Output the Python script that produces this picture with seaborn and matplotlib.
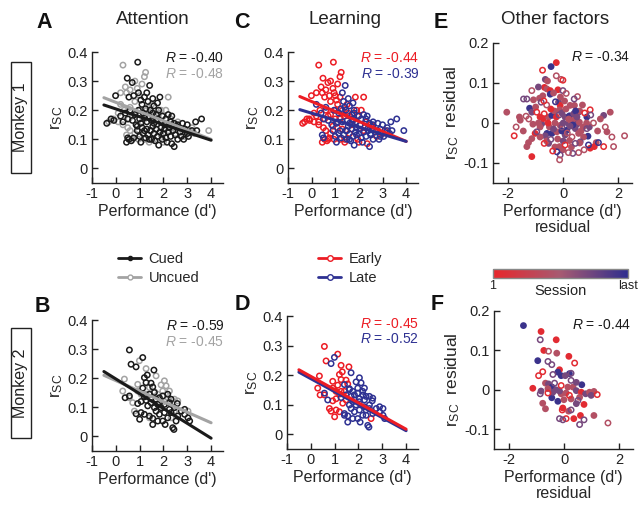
import numpy as np
import pandas as pd
import matplotlib
matplotlib.use('Agg')
import matplotlib.pyplot as plt
from matplotlib.colors import LinearSegmentedColormap, Normalize
from matplotlib.lines import Line2D
from matplotlib.patches import Rectangle
import matplotlib.cm as cm
import seaborn as sns

# ---------------- data ----------------
# monkey 1: (performance d', r_SC), split by cue condition and by early/late sessions
m1_cued_early = [(0.92, .365), (0.48, .31), (0.69, .295), (-0.01, .25), (1.2, .245), (0.75, .25),
                 (0.95, .26), (1.05, .235), (1.85, .245), (1.1, .22), (0.55, .245), (-0.38, .155),
                 (-0.2, .17), (-0.08, .165), (0.3, .16), (0.6, .2), (0.8, .185), (1.0, .17),
                 (1.2, .175), (1.4, .18), (1.55, .19), (1.95, .18), (2.3, .16), (0.2, .18),
                 (0.45, .09), (0.55, .1), (0.65, .095), (0.75, .105), (1.1, .14), (1.3, .135),
                 (1.6, .12), (1.95, .1), (2.25, .14), (2.35, .085), (2.55, .145), (2.75, .11),
                 (3.0, .12), (1.4, .1), (0.9, .145)]
m1_cued_late = [(1.42, .285), (1.3, .26), (1.55, .24), (1.75, .225), (1.35, .23), (1.6, .215),
                (0.4, .19), (0.5, .17), (0.7, .165), (0.85, .15), (0.95, .2), (1.05, .155),
                (1.15, .19), (1.25, .205), (1.3, .16), (1.45, .2), (1.5, .165), (1.6, .155),
                (1.7, .185), (1.75, .17), (1.8, .2), (1.9, .16), (2.05, .15), (2.1, .17),
                (2.2, .185), (2.35, .18), (2.45, .155), (2.6, .15), (2.8, .155), (3.0, .15),
                (3.35, .16), (3.6, .17), (0.5, .105), (0.9, .13), (1.0, .11), (1.15, .12),
                (1.25, .105), (1.35, .115), (1.45, .13), (1.5, .1), (1.55, .145), (1.65, .095),
                (1.7, .135), (1.75, .11), (1.8, .08), (1.85, .125), (1.9, .14), (2.0, .12),
                (2.05, .135), (2.1, .105), (2.15, .09), (2.2, .125), (2.3, .11), (2.4, .13),
                (2.45, .075), (2.5, .115), (2.6, .1), (2.7, .125), (2.85, .1), (2.9, .135),
                (3.05, .11), (3.2, .13), (3.4, .13), (1.05, .09), (1.2, .13)]
m1_uncued_early = [(0.3, .355), (1.25, .33), (1.2, .315), (0.8, .3), (0.4, .28), (0.45, .26),
                   (0.2, .26), (1.1, .29), (0.6, .27), (0.9, .275), (1.0, .25), (2.2, .245),
                   (1.5, .22), (0.35, .2), (0.8, .23), (1.0, .2), (0.7, .18), (-0.1, .17),
                   (-0.3, .16), (0.1, .19), (0.3, .15), (0.5, .14), (0.8, .12), (0.6, .13),
                   (1.2, .1), (1.4, .09), (1.2, .17), (1.3, .2), (1.6, .18), (1.9, .2),
                   (2.1, .2), (2.5, .15), (2.8, .13), (3.1, .13), (2.2, .13), (1.7, .15),
                   (0.95, .1), (0.7, .1), (2.0, .09), (0.1, .16), (0.55, .17)]
m1_uncued_late = [(0.2, .22), (0.6, .21), (0.45, .115), (1.6, .1), (1.4, .21), (1.8, .19),
                  (2.0, .18), (2.3, .17), (2.6, .16), (2.5, .12), (2.9, .11), (3.3, .12),
                  (3.9, .13), (1.9, .115), (1.1, .16), (1.5, .13), (1.75, .165), (2.4, .14),
                  (3.2, .14)]

# monkey 2
m2_cued_early = [(0.57, .297), (0.64, .248), (1.13, .271), (1.32, .211), (1.2, .202), (1.6, .228),
                 (1.27, .185), (1.48, .183), (1.55, .17), (1.13, .166), (1.41, .145), (1.2, .136),
                 (0.39, .133), (0.92, .113), (1.06, .12), (0.85, .078), (1.0, .059), (1.06, .082),
                 (2.53, .053), (1.48, .116), (1.34, .105), (1.2, .076)]
m2_cued_late = [(0.85, .239), (1.62, .151), (0.57, .139), (2.18, .145), (2.58, .113), (1.41, .07),
                (1.55, .062), (1.69, .087), (1.83, .076), (1.97, .053), (2.07, .041), (2.18, .064),
                (2.32, .082), (2.39, .03), (2.44, .024), (2.6, .07), (2.75, .087), (2.89, .076),
                (3.03, .064), (3.1, .053), (1.76, .11), (1.9, .099), (2.04, .11), (2.25, .093),
                (1.62, .099), (1.27, .124), (1.69, .128), (1.83, .133), (2.25, .116), (2.46, .099),
                (2.04, .082), (1.76, .053), (1.55, .041), (2.32, .128), (1.97, .139), (2.89, .093)]
m2_uncued_early = [(0.29, .156), (0.36, .197), (0.92, .179), (1.27, .233), (0.78, .087), (1.27, .145),
                   (1.06, .145), (0.92, .156), (0.57, .133)]
m2_uncued_late = [(0.99, .26), (1.69, .208), (1.9, .177), (2.11, .174), (1.97, .156), (2.18, .133),
                  (2.46, .128), (0.71, .116), (1.48, .133), (1.62, .154), (1.76, .145), (2.04, .12),
                  (2.46, .087), (2.32, .064), (1.41, .064), (2.25, .156), (2.6, .122), (3.03, .087),
                  (2.04, .191), (1.41, .168), (1.83, .116)]

# regression lines (endpoints)
fit_x = [-0.5, 4.0]
m1_fit = {'Cued': [0.218, 0.097], 'Uncued': [0.243, 0.100], 'Early': [0.247, 0.093], 'Late': [0.202, 0.093]}
m2_fit = {'Cued': [0.223, -0.006], 'Uncued': [0.210, 0.047], 'Early': [0.218, 0.017], 'Late': [0.210, 0.012]}
m1_r = {'Cued': '-0.40', 'Uncued': '-0.48', 'Early': '-0.44', 'Late': '-0.39'}
m2_r = {'Cued': '-0.59', 'Uncued': '-0.45', 'Early': '-0.45', 'Late': '-0.52'}

# residual panels: (perf residual, rsc residual, session 0=first..1=last, filled)
R, M, P, B = 0.05, 0.4, 0.7, 0.95
e_points = [(-0.25, .151, R, 1), (-0.44, .141, B, 1), (-0.75, .132, R, 0), (-0.25, .118, M, 0),
            (-0.08, .109, M, 0), (-0.01, .107, R, 0), (-0.65, .109, P, 1), (-0.57, .105, M, 1),
            (-0.68, .089, R, 1), (-0.59, .085, M, 1), (-0.47, .081, R, 1), (-0.19, .083, R, 1),
            (-0.01, .081, P, 0), (0.11, .074, M, 0), (-1.14, .081, M, 0), (-1.44, .060, P, 0),
            (-1.32, .060, P, 0), (-1.08, .058, M, 1), (-0.86, .062, M, 1), (-0.80, .052, P, 0),
            (-0.74, .068, M, 1), (-0.47, .072, B, 1), (-0.28, .053, B, 0), (-0.17, .052, P, 1),
            (-0.11, .044, R, 1), (0.25, .044, M, 1), (0.41, .044, M, 1), (0.52, .066, M, 0),
            (-1.22, .037, B, 1), (-1.14, .027, P, 1), (-2.05, .027, M, 1), (-1.59, .015, M, 1),
            (-1.56, .007, M, 1), (-1.71, -.010, M, 0), (-1.78, -.032, R, 0), (-1.35, .017, M, 0),
            (-1.10, -.003, M, 1), (-1.02, -.026, R, 1), (-0.78, -.002, P, 1), (-0.72, .011, R, 1),
            (-0.53, .015, M, 1), (-0.41, .019, B, 1), (-0.32, .030, M, 1), (-0.13, .033, M, 1),
            (-0.05, .025, P, 1), (0.07, .015, P, 1), (0.23, .018, B, 1), (0.38, .007, M, 1),
            (0.50, -.003, P, 1), (0.59, .002, M, 1), (0.78, .025, R, 0), (0.86, .015, B, 1),
            (0.98, .033, R, 0), (0.56, .027, P, 1), (0.38, .023, P, 1), (1.47, .019, P, 1),
            (1.71, .027, M, 1), (1.53, -.010, M, 0), (1.59, -.022, M, 1), (1.77, -.035, M, 0),
            (1.83, -.059, M, 0), (2.23, -.032, M, 0), (1.47, -.059, R, 0), (1.20, -.049, M, 1),
            (0.98, -.063, R, 1), (1.13, -.059, R, 1), (1.28, -.049, B, 0), (0.92, -.055, B, 0),
            (0.90, -.033, B, 1), (0.74, -.035, M, 1), (0.62, -.047, P, 1), (0.76, -.067, M, 0),
            (0.56, -.074, M, 0), (0.35, -.076, P, 0), (0.19, -.074, M, 0), (-0.01, -.067, M, 1),
            (-0.13, -.059, M, 1), (-0.11, -.080, P, 0), (-0.13, -.092, M, 0), (-0.23, -.072, B, 0),
            (-0.38, -.070, R, 0), (-0.69, -.051, R, 0), (-0.53, -.051, P, 1), (-0.45, -.041, P, 0),
            (-0.41, -.026, B, 1), (-0.59, -.026, B, 1), (-0.65, -.032, P, 1), (-0.84, -.035, M, 1),
            (-1.14, -.039, M, 1), (-1.26, -.049, M, 1), (-1.32, -.059, M, 1), (-1.14, -.084, R, 1),
            (-0.96, -.022, P, 0), (-0.84, -.010, M, 1), (-0.23, -.022, M, 1), (-0.05, -.010, P, 0),
            (0.13, -.018, B, 1), (0.07, -.030, P, 1), (0.32, -.035, M, 0), (0.23, -.044, M, 1),
            (0.44, -.051, P, 0), (0.07, -.055, R, 0), (-0.96, .027, R, 0), (-0.84, .015, R, 1),
            (-0.69, .023, R, 0), (-0.25, .015, R, 1), (-0.11, -.006, M, 1), (0.19, -.002, P, 1),
            (0.44, -.014, P, 1), (0.72, -.010, M, 1), (0.86, -.014, P, 0), (0.56, -.026, M, 1),
            (0.30, .000, M, 1), (0.00, .000, P, 1), (-0.30, .000, M, 1), (0.60, .030, M, 1),
            (-0.20, -.040, M, 1), (0.45, .030, B, 1), (0.10, .035, M, 1), (-0.45, .035, R, 1),
            (0.95, -.010, P, 1), (1.10, .000, M, 0), (0.30, -.060, M, 1), (-0.60, .045, M, 0),
            (0.20, .010, M, 1), (0.50, .015, P, 1), (-0.50, -.010, M, 1), (-0.90, .000, M, 1),
            (-0.35, -.015, P, 1), (0.65, -.020, M, 1), (0.15, -.025, M, 0), (-0.15, .020, P, 0),
            (0.35, -.005, B, 1), (-0.60, -.045, M, 1), (-1.00, .040, M, 1), (-1.25, .010, M, 0),
            (0.85, .000, M, 1), (1.25, -.020, M, 1), (1.00, .020, P, 0), (0.05, .055, M, 1),
            (-0.35, .075, M, 1), (-0.90, .090, P, 1), (0.60, -.050, M, 1), (0.00, -.045, P, 1),
            (-0.30, -.060, M, 1), (0.40, .060, P, 0), (-0.55, .000, R, 1), (0.25, -.008, P, 1),
            (-0.70, .055, R, 0), (1.35, .010, M, 1), (-1.45, -.020, M, 1), (-0.10, .065, M, 1),
            (0.70, .045, M, 1), (-0.05, -.020, B, 1)]
f_points = [(-1.48, .163, B, 1), (-0.84, .148, R, 1), (-0.87, .127, P, 0), (-0.29, .127, R, 1),
            (-0.74, .100, R, 1), (-0.57, .098, M, 0), (-0.27, .093, M, 1), (-0.96, .074, B, 1),
            (-0.59, .072, P, 0), (-0.45, .064, P, 0), (0.17, .085, R, 1), (0.38, .068, R, 0),
            (-0.78, .046, R, 0), (-0.93, .036, R, 0), (-0.41, .039, P, 0), (-0.17, .051, R, 1),
            (-0.23, .045, B, 1), (-0.11, .036, B, 1), (0.19, .041, B, 1), (0.25, .042, P, 0),
            (0.04, .036, P, 1), (-0.68, .017, M, 1), (-0.57, .015, P, 1), (-0.35, .017, P, 0),
            (-0.44, .007, B, 1), (-1.14, .004, R, 1), (-0.84, -.003, P, 1), (-0.87, -.010, P, 0),
            (-0.59, -.008, R, 0), (-0.45, -.020, B, 1), (-0.78, -.034, M, 1), (-0.68, -.048, M, 1),
            (-0.23, -.029, B, 1), (-0.11, -.010, M, 1), (-0.05, -.046, R, 1), (-0.07, -.051, R, 0),
            (0.07, -.008, M, 1), (0.19, -.014, R, 0), (0.32, .007, M, 1), (0.44, -.002, P, 1),
            (0.64, .013, B, 1), (0.62, -.006, R, 1), (0.78, -.010, P, 1), (0.92, -.006, M, 1),
            (1.08, -.004, M, 1), (1.20, -.012, R, 0), (0.98, -.014, P, 1), (0.72, -.037, R, 1),
            (0.50, -.027, P, 0), (0.25, -.051, P, 0), (0.16, -.054, M, 1), (0.59, -.065, R, 1),
            (0.72, -.076, P, 0), (0.56, -.088, P, 0), (0.35, -.073, R, 1), (0.07, -.073, R, 0),
            (-0.05, -.076, P, 0), (-0.17, -.073, P, 0), (1.08, -.065, M, 1), (1.59, -.084, M, 0),
            (0.25, .024, P, 0), (0.44, .019, P, 1), (-0.29, .000, P, 1), (-0.17, -.003, P, 1),
            (0.13, .007, M, 1), (0.44, -.035, P, 1), (0.25, -.023, M, 1), (0.56, -.019, M, 1),
            (-0.01, -.025, M, 1), (-0.41, -.006, P, 1), (-0.59, .003, M, 1), (-0.11, .011, R, 0)]
e_r, f_r = '-0.34', '-0.44'

# ---------------- styling ----------------
sns.set_style('ticks', {'xtick.direction': 'in', 'ytick.direction': 'in'})
plt.rcParams['font.family'] = ['Liberation Sans', 'DejaVu Sans']
plt.rcParams['mathtext.fontset'] = 'custom'
plt.rcParams['mathtext.rm'] = 'Liberation Sans'
plt.rcParams['mathtext.it'] = 'Liberation Sans:italic'

BLACK, GRAY = '#1a1a1a', '#a3a3a3'
RED, BLUE = '#ec1c24', '#2e3192'
pal = {'Cued': BLACK, 'Uncued': GRAY, 'Early': RED, 'Late': BLUE}
session_cmap = LinearSegmentedColormap.from_list('session', ['#e8262b', '#a65a72', '#2f2e8e'])

W, H = 639, 515
fig = plt.figure(figsize=(W / 100, H / 100), dpi=100)


def fx(x):
    return x / W


def fy(y):
    return 1 - y / H


def axes_px(left, top, right, bottom):
    return fig.add_axes([fx(left), fy(bottom), (right - left) / W, (bottom - top) / H])


def monkey_frame(ce, cl, ue, ul):
    rows = []
    for pts, cue, phase in [(ce, 'Cued', 'Early'), (cl, 'Cued', 'Late'),
                            (ue, 'Uncued', 'Early'), (ul, 'Uncued', 'Late')]:
        for p, r in pts:
            rows.append({'perf': p, 'rsc': r, 'cue': cue, 'phase': phase})
    return pd.DataFrame(rows)


def open_last(ax):
    coll = ax.collections[-1]
    coll.set_edgecolors(coll.get_facecolors())
    coll.set_facecolors('none')


def style(ax, xlim, ylim, xt, yt):
    ax.set_xlim(*xlim)
    ax.set_ylim(*ylim)
    ax.set_xticks(xt, labels=[f'{v:g}' for v in xt])
    ax.set_yticks(yt, labels=[f'{v:g}' for v in yt])
    ax.tick_params(direction='in', length=4, width=1, labelsize=10.5, colors='#222222', pad=3)
    sns.despine(ax=ax)
    for s in ['left', 'bottom']:
        ax.spines[s].set_linewidth(1)
        ax.spines[s].set_color('#222222')
    ax.set_facecolor('none')


def scatter_panel(ax, df, key, point_order, line_order, text_order, fits, rvals, ry):
    d = pd.concat([df[df[key] == k] for k in point_order])
    sns.scatterplot(data=d, x='perf', y='rsc', hue=key, palette=pal, s=15,
                    linewidth=1.1, legend=False, ax=ax, zorder=2)
    open_last(ax)
    lines = pd.DataFrame([{'perf': x, 'rsc': y, key: k}
                          for k in line_order for x, y in zip(fit_x, fits[k])])
    sns.lineplot(data=lines, x='perf', y='rsc', hue=key, hue_order=line_order, palette=pal,
                 linewidth=2.2, legend=False, ax=ax, zorder=3)
    style(ax, (-1, 4.5), (-0.05, 0.4), [-1, 0, 1, 2, 3, 4], [0, 0.1, 0.2, 0.3, 0.4])
    ax.set_xlabel("Performance (d')", fontsize=11.5, labelpad=2)
    ax.set_ylabel(r'$\mathregular{r_{SC}}$', fontsize=12.5, labelpad=2)
    for k, y in zip(text_order, ry):
        ax.text(1.01, y, r'$\mathit{R}$ = ' + rvals[k], transform=ax.transAxes,
                ha='right', va='center', fontsize=10, color=pal[k])


def residual_panel(ax, pts, rval):
    d = pd.DataFrame(pts, columns=['perf', 'rsc', 'session', 'filled'])
    sns.scatterplot(data=d[d.filled == 1], x='perf', y='rsc', hue='session', palette=session_cmap,
                    hue_norm=(0, 1), s=24, linewidth=0, legend=False, ax=ax)
    sns.scatterplot(data=d[d.filled == 0], x='perf', y='rsc', hue='session', palette=session_cmap,
                    hue_norm=(0, 1), s=15, linewidth=1.1, legend=False, ax=ax)
    open_last(ax)
    style(ax, (-2.55, 2.5), (-0.15, 0.2), [-2, 0, 2], [-0.1, 0, 0.1, 0.2])
    ax.set_xlabel("Performance (d')\nresidual", fontsize=11.5, labelpad=2, linespacing=1.1)
    ax.set_ylabel(r'$\mathregular{r_{SC}}$  residual', fontsize=12.5, labelpad=2)
    ax.text(0.99, 0.9, r'$\mathit{R}$ = ' + rval, transform=ax.transAxes,
            ha='right', va='center', fontsize=10, color=BLACK)


m1 = monkey_frame(m1_cued_early, m1_cued_late, m1_uncued_early, m1_uncued_late)
m2 = monkey_frame(m2_cued_early, m2_cued_late, m2_uncued_early, m2_uncued_late)

axA = axes_px(92, 52, 223, 183)
axC = axes_px(288, 52, 418, 183)
axE = axes_px(493, 43, 632, 183)
axB = axes_px(92, 320, 223, 451)
axD = axes_px(287, 316, 418, 449)
axF = axes_px(494, 311, 633, 449)

scatter_panel(axA, m1, 'cue', ['Uncued', 'Cued'], ['Uncued', 'Cued'], ['Cued', 'Uncued'],
              m1_fit, m1_r, [0.955, 0.83])
scatter_panel(axC, m1, 'phase', ['Early', 'Late'], ['Early', 'Late'], ['Early', 'Late'],
              m1_fit, m1_r, [0.955, 0.83])
scatter_panel(axB, m2, 'cue', ['Uncued', 'Cued'], ['Uncued', 'Cued'], ['Cued', 'Uncued'],
              m2_fit, m2_r, [0.955, 0.83])
scatter_panel(axD, m2, 'phase', ['Early', 'Late'], ['Late', 'Early'], ['Early', 'Late'],
              m2_fit, m2_r, [0.94, 0.83])
residual_panel(axE, e_points, e_r)
residual_panel(axF, f_points, f_r)

# titles and panel letters
for x, y, s in [(153, 20, 'Attention'), (345, 20, 'Learning'), (555, 20, 'Other factors')]:
    fig.text(fx(x), fy(y), s, ha='center', va='center', fontsize=13.5, color='#222222')
for x, y, s in [(44, 22, 'A'), (242, 22, 'C'), (441, 22, 'E'),
                (42, 306, 'B'), (242, 304, 'D'), (437, 304, 'F')]:
    fig.text(fx(x), fy(y), s, ha='center', va='center', fontsize=15.5, fontweight='bold',
             color='#111111')

# monkey labels in boxes
for top, bottom, s in [(62, 173, 'Monkey 1'), (328, 438, 'Monkey 2')]:
    fig.patches.append(Rectangle((fx(11), fy(bottom)), 20 / W, (bottom - top) / H,
                                 transform=fig.transFigure, fill=False, lw=1, ec='#222222'))
    fig.text(fx(21), fy((top + bottom) / 2), s, rotation=90, ha='center', va='center',
             fontsize=11.5, color='#222222')

# legends
cue_handles = [Line2D([], [], color=BLACK, lw=2, marker='o', ms=3, mfc=BLACK, mec=BLACK),
               Line2D([], [], color=GRAY, lw=2, marker='o', ms=3.5, mfc='white', mec=GRAY)]
fig.legend(cue_handles, ['Cued', 'Uncued'], loc='upper left', bbox_to_anchor=(fx(118), fy(252)),
           frameon=False, fontsize=10.5, handlelength=1.6, handletextpad=0.5,
           labelspacing=0.35, borderaxespad=0, borderpad=0)
phase_handles = [Line2D([], [], color=RED, lw=2, marker='o', ms=4, mfc='white', mec=RED),
                 Line2D([], [], color=BLUE, lw=2, marker='o', ms=4, mfc='white', mec=BLUE)]
fig.legend(phase_handles, ['Early', 'Late'], loc='upper left', bbox_to_anchor=(fx(318), fy(252)),
           frameon=False, fontsize=10.5, handlelength=1.6, handletextpad=0.5,
           labelspacing=0.35, borderaxespad=0, borderpad=0)

# session colorbar
cax = axes_px(493, 269, 628, 278)
cb = fig.colorbar(cm.ScalarMappable(norm=Normalize(0, 1), cmap=session_cmap), cax=cax,
                  orientation='horizontal')
cb.set_ticks([])
cb.outline.set_edgecolor('#888888')
cb.outline.set_linewidth(1)
fig.text(fx(493), fy(286), '1', ha='center', va='center', fontsize=9, color='#222222')
fig.text(fx(628), fy(286), 'last', ha='center', va='center', fontsize=9, color='#222222')
fig.text(fx(560), fy(291), 'Session', ha='center', va='center', fontsize=10.5, color='#222222')

fig.savefig('out.png', dpi=100)
